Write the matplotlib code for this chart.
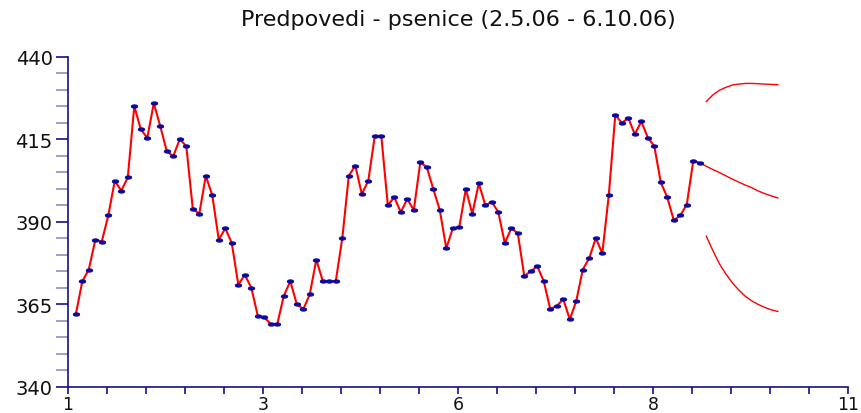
# coding=utf-8

""" Predpovedi - psenice: denni ceny + predpoved s pasmem """

import numpy as np
import matplotlib
matplotlib.use('Agg')
import matplotlib.pyplot as plt
from matplotlib.path import Path
from matplotlib.ticker import MultipleLocator, FixedLocator, FixedFormatter


##################################
############# DATA ###############
##################################
# namerene hodnoty (97 bodu, krok 1/12)
prices = [
    361.9, 371.9, 375.5, 384.5, 384.0, 391.9, 402.4, 399.4, 403.4, 425.0,
    418.0, 415.4, 425.9, 418.9, 411.3, 409.9, 415.0, 412.9, 393.9, 392.4,
    403.9, 398.0, 384.5, 388.0, 383.5, 370.9, 373.9, 370.0, 361.5, 361.0,
    359.0, 359.0, 367.5, 372.0, 365.0, 363.5, 368.0, 378.5, 372.0, 372.0,
    372.0, 385.0, 403.9, 407.0, 398.4, 402.4, 416.0, 416.0, 395.0, 397.4,
    392.9, 396.9, 393.5, 408.0, 406.5, 399.9, 393.5, 381.9, 388.0, 388.4,
    399.9, 392.4, 401.6, 395.0, 396.0, 392.9, 383.5, 388.0, 386.5, 373.5,
    375.0, 376.5, 371.9, 363.5, 364.5, 366.5, 360.4, 366.0, 375.5, 379.0,
    385.0, 380.4, 398.0, 422.4, 419.9, 421.4, 416.5, 420.4, 415.5, 412.9,
    401.9, 397.4, 390.4, 391.9, 395.2, 408.5, 407.8,
]
# predpoved (12 kroku) - stred, horni a dolni mez
fc_mid = [406.8, 405.8, 404.9, 403.9, 402.9, 402.0, 401.1, 400.3, 399.3, 398.5, 397.8, 397.2]
fc_up = [426.4, 428.4, 429.8, 430.7, 431.4, 431.7, 431.9, 431.9, 431.8, 431.7, 431.6, 431.5]
fc_lo = [385.6, 381.3, 377.3, 374.2, 371.5, 369.3, 367.4, 366.0, 364.9, 364.0, 363.3, 362.8]

x_ticks = [1, 3.5, 6, 8.5, 11]
x_labels = ['1', '3', '6', '8', '11']
y_ticks = [340, 365, 390, 415, 440]

title = 'Predpovedi - psenice (2.5.06 - 6.10.06)'


##################################
########## MAIN METHODS ##########
##################################
def main():
    navy = '#10108a'
    step = 1.0 / 12
    x = 1.1 + np.arange(len(prices)) * step
    xf = x[-1] + np.arange(1, len(fc_mid) + 1) * step

    fig = plt.figure(figsize=(8.62, 4.14), dpi=100)
    ax = fig.add_axes([68 / 862, 26.3 / 414, 780 / 862, 330 / 414])

    # cervena cara + modre tecky (elipsy)
    t = np.linspace(0, 2 * np.pi, 30)
    ell = Path(np.column_stack([np.cos(t) * 2.0, np.sin(t)]))
    ax.plot(x, prices, color='#ff0000', lw=1.5, zorder=2)
    ax.plot(x, prices, ls='none', marker=ell, ms=4.3, color='#0a0aa0', zorder=3)

    # predpoved
    ax.plot(np.r_[x[-1], xf], np.r_[prices[-1], fc_mid], color='#ff0000', lw=1.0)
    ax.plot(xf, fc_up, color='#ff0000', lw=1.0)
    ax.plot(xf, fc_lo, color='#ff0000', lw=1.0)

    ax.set_xlim(1, 11)
    ax.set_ylim(340, 440)

    # osy
    for s in ['top', 'right']:
        ax.spines[s].set_visible(False)
    for s in ['left', 'bottom']:
        ax.spines[s].set_color(navy)
        ax.spines[s].set_linewidth(1.2)

    ax.xaxis.set_major_locator(FixedLocator(x_ticks))
    ax.xaxis.set_major_formatter(FixedFormatter(x_labels))
    ax.xaxis.set_minor_locator(MultipleLocator(0.5))
    ax.yaxis.set_major_locator(FixedLocator(y_ticks))
    ax.yaxis.set_minor_locator(MultipleLocator(5))

    ax.tick_params(axis='x', which='both', direction='out', length=5, width=1.2,
                   color=navy, pad=1, labelsize=12.5)
    ax.tick_params(axis='y', which='major', direction='out', length=9, width=1.2,
                   color=navy, pad=2, labelsize=14)
    ax.tick_params(axis='y', which='minor', direction='out', length=9, width=1.2,
                   color='#8c8cc8')
    for lab in ax.get_xticklabels() + ax.get_yticklabels():
        lab.set_fontfamily('DejaVu Sans')
        lab.set_color('#111111')

    fig.text(458 / 862, 1 - 20 / 414, title, ha='center', va='center',
             fontsize=16, family='DejaVu Sans', color='#111111')

    fig.savefig('out.png', dpi=100)


##########################
########## MAIN ##########
##########################
if __name__ == '__main__':
    main()
